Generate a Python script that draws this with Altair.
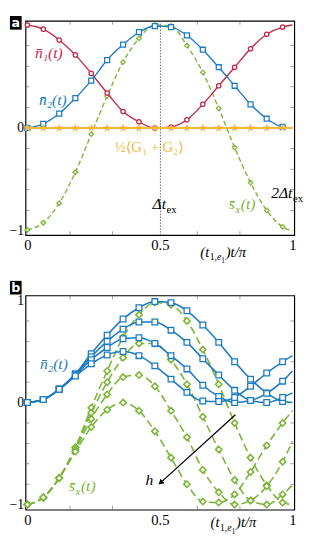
import altair as alt
import pandas as pd

SERIF = "'Liberation Serif', 'DejaVu Serif', serif"
RED = "#c3274a"
BLUE = "#1b7bc2"
GREEN = "#7ab536"
ORANGE = "#f4b63d"

# marker times (17 markers) plus the axis end t = 1 where the lines stop
T = [0.0, 0.060, 0.120, 0.181, 0.241, 0.301, 0.361, 0.421, 0.481, 0.542,
     0.602, 0.662, 0.722, 0.782, 0.842, 0.903, 0.963, 1.0]
N_MARK = 17

# ---- panel a ----
A_N1 = [1.00, 0.96, 0.855, 0.71, 0.53, 0.34, 0.16, 0.06, 0.00, 0.01, 0.08, 0.23, 0.41, 0.59, 0.77, 0.91, 0.98, 1.00]
A_N2 = [0.00, 0.04, 0.14, 0.29, 0.46, 0.66, 0.81, 0.93, 0.99, 0.98, 0.90, 0.76, 0.59, 0.41, 0.23, 0.09, 0.01, 0.00]
A_SX = [-0.99, -0.92, -0.73, -0.43, -0.06, 0.31, 0.64, 0.87, 1.00, 0.99, 0.80, 0.54, 0.19, -0.19, -0.53, -0.80, -0.96, -1.00]
A_G = [0.0, 0.0, 0.0, 0.0, 0.0, 0.0, 0.0, 0.0, 0.0, 0.0, 0.0, 0.0, 0.0, 0.0, 0.0, 0.0, 0.0, 0.0]

# ---- panel b (four values of h, amplitude decreasing with h) ----
B_N2_1 = [0.00, 0.03, 0.13, 0.28, 0.48, 0.66, 0.82, 0.93, 0.99, 0.98, 0.90, 0.76, 0.59, 0.40, 0.23, 0.095, 0.01, 0.00]
B_N2_2 = [0.00, 0.03, 0.13, 0.28, 0.45, 0.60, 0.72, 0.79, 0.79, 0.71, 0.59, 0.43, 0.27, 0.12, 0.02, 0.00, 0.05, 0.095]
B_N2_3 = [0.00, 0.03, 0.13, 0.27, 0.42, 0.54, 0.625, 0.635, 0.58, 0.46, 0.33, 0.17, 0.06, 0.00, 0.02, 0.09, 0.21, 0.31]
B_N2_4 = [0.00, 0.03, 0.13, 0.26, 0.38, 0.467, 0.50, 0.46, 0.36, 0.23, 0.10, 0.015, 0.01, 0.05, 0.16, 0.29, 0.40, 0.46]
B_SX_1 = [-1.00, -0.93, -0.74, -0.44, -0.05, 0.31, 0.64, 0.86, 0.98, 0.96, 0.80, 0.52, 0.18, -0.20, -0.54, -0.81, -0.98, -1.00]
B_SX_2 = [-1.00, -0.93, -0.74, -0.44, -0.10, 0.20, 0.44, 0.58, 0.58, 0.42, 0.18, -0.14, -0.46, -0.76, -0.96, -1.00, -0.90, -0.81]
B_SX_3 = [-1.00, -0.93, -0.74, -0.46, -0.16, 0.08, 0.25, 0.27, 0.16, -0.08, -0.34, -0.66, -0.88, -1.00, -0.96, -0.82, -0.58, -0.38]
B_SX_4 = [-1.00, -0.93, -0.74, -0.48, -0.24, -0.07, 0.00, -0.08, -0.28, -0.54, -0.80, -0.97, -0.98, -0.90, -0.68, -0.42, -0.20, -0.08]

# axis ticks
X_LABELS = [0, 0.5, 1]
X_MINOR = [0.161, 0.321, 0.641, 0.802]
Y_MINOR = [-0.8, -0.6, -0.4, -0.2, 0.2, 0.4, 0.6, 0.8]
A_Y_LABELS = [0, -1]
B_Y_LABELS = [1, 0, -1]

# arrow in panel b (start -> end), direction of increasing h
ARROW_T = [0.785, 0.505]
ARROW_V = [-0.12, -0.78]

XDOM = [-0.007, 1.007]
W = 276
H = 220
STAR = ("M0,-1L0.2245,-0.309L0.951,-0.309L0.363,0.118L0.588,0.809L0,0.382"
        "L-0.588,0.809L-0.363,0.118L-0.951,-0.309L-0.2245,-0.309Z")

# rich-text pieces: (text, dx, dy, size, italic, align)
DT_EX = [("Δt", 0, 0, 16, True, "right"), ("ex", 0.5, 4, 11, False, "left")]
DT2_EX = [("2Δt", 0, 0, 16, True, "right"), ("ex", 0.5, 4, 11, False, "left")]
SX_T = [("s̄", 0, 0, 16, True, "right"), ("x", 0.5, 4, 11, True, "left"), ("(t)", 6, 0, 16, True, "left")]
XTITLE = [("(t", 0, 0, 15, True, "right"), ("1,", 0.5, 4, 10, False, "left"),
          ("e", 8, 4, 10, True, "left"), ("1", 12.5, 7, 7.5, False, "left"),
          (")t/π", 17, 0, 15, True, "left")]


def series_df(values, name):
    return pd.DataFrame({"t": T, "v": values, "s": name, "m": [i < N_MARK for i in range(len(T))]})


def panel(ydom, ylabels, layers_fn, box_y, letter):
    xs = alt.Scale(domain=XDOM, nice=False, zero=False)
    ys = alt.Scale(domain=ydom, nice=False, zero=False)
    X = alt.X("t:Q", scale=xs, axis=alt.Axis(
        values=X_LABELS, format="~g", ticks=False, domain=False, grid=False,
        labelFont=SERIF, labelFontSize=15, labelColor="black", labelPadding=3,
        labelFlush=False, title=None))
    Y = alt.Y("v:Q", scale=ys, axis=alt.Axis(
        values=ylabels, format="~g", ticks=False, domain=False, grid=False,
        labelFont=SERIF, labelFontSize=14, labelColor="black", labelPadding=2,
        labelFlush=False, title=None))

    def text(t, v, s, color, size=16, italic=True, align="center"):
        return [alt.Chart(pd.DataFrame({"t": [t], "v": [v], "s": [s]})).mark_text(
            color=color, font=SERIF, fontSize=size, fontStyle="italic" if italic else "normal",
            align=align, baseline="middle").encode(x=X, y=Y, text="s:N")]

    def rich(t, v, parts, color):
        out = []
        for s, dx, dy, size, italic, align in parts:
            out.append(alt.Chart(pd.DataFrame({"t": [t], "v": [v], "s": [s]})).mark_text(
                color=color, font=SERIF, fontSize=size,
                fontStyle="italic" if italic else "normal", align=align,
                baseline="alphabetic", dx=dx, dy=dy).encode(x=X, y=Y, text="s:N"))
        return out

    ytick = pd.DataFrame({"v": Y_MINOR})
    xtick = pd.DataFrame({"t": X_MINOR})
    ticks = [
        alt.Chart(ytick).mark_tick(orient="horizontal", size=4, thickness=0.8, color="#555", xOffset=2)
        .encode(y=Y, x=alt.datum(XDOM[0])),
        alt.Chart(ytick).mark_tick(orient="horizontal", size=4, thickness=0.8, color="#555", xOffset=-2)
        .encode(y=Y, x=alt.datum(XDOM[1])),
        alt.Chart(xtick).mark_tick(orient="vertical", size=4, thickness=0.8, color="#555", yOffset=-2)
        .encode(x=X, y=alt.datum(ydom[0])),
        alt.Chart(xtick).mark_tick(orient="vertical", size=4, thickness=0.8, color="#555", yOffset=2)
        .encode(x=X, y=alt.datum(ydom[1])),
    ]
    lab = pd.DataFrame({"s": [letter]})
    box = alt.Chart(lab).mark_rect(color="black").encode(
        x=alt.value(-16), x2=alt.value(-4), y=alt.value(box_y), y2=alt.value(box_y + 14))
    boxt = alt.Chart(lab).mark_text(color="white", font="DejaVu Sans", fontWeight="bold",
                                    fontSize=13, align="center", baseline="middle").encode(
        x=alt.value(-10), y=alt.value(box_y + 7.5), text="s:N")
    layers = ticks + layers_fn(X, Y, text, rich) + [box, boxt]
    return alt.layer(*layers).properties(width=W, height=H)


def lines_and_marks(X, Y, df, color, shape, size, dash=None, line_w=1.4, mark_w=1.3):
    lkw = dict(color=color, strokeWidth=line_w, interpolate="monotone")
    if dash:
        lkw["strokeDash"] = dash
    line = alt.Chart(df).mark_line(**lkw).encode(x=X, y=Y, detail="s:N")
    pts = alt.Chart(df).transform_filter("datum.m").mark_point(
        shape=shape, size=size, fill="white", fillOpacity=1, stroke=color,
        strokeWidth=mark_w, opacity=1).encode(x=X, y=Y, detail="s:N")
    return [line, pts]


def layers_a(X, Y, text, rich):
    out = []
    out.append(alt.Chart(pd.DataFrame({"s": ["dt"]})).mark_rule(
        color="#666", strokeDash=[1.5, 1.5], strokeWidth=1).encode(x=alt.datum(0.502)))
    out += lines_and_marks(X, Y, series_df(A_SX, "sx"), GREEN, "diamond", 22, dash=[5, 3])
    out += lines_and_marks(X, Y, series_df(A_N1, "n1"), RED, "circle", 20)
    out += lines_and_marks(X, Y, series_df(A_N2, "n2"), BLUE, "square", 26)
    g = series_df(A_G, "g")
    out.append(alt.Chart(g).mark_line(color=ORANGE, strokeWidth=2).encode(x=X, y=Y))
    out.append(alt.Chart(g).transform_filter("datum.m").mark_point(
        shape=STAR, size=90, filled=True, color=ORANGE, opacity=1).encode(x=X, y=Y))
    out += text(0.081, 0.73, "n̄₁(t)", RED)
    out += text(0.096, 0.27, "n̄₂(t)", BLUE)
    out += text(0.46, -0.19, "½⟨G₁ + G₂⟩", ORANGE, size=15, italic=False)
    out += rich(0.523, -0.79, DT_EX, "black")
    out += rich(1.0, -0.68, DT2_EX, "black")
    out += rich(0.783, -0.79, SX_T, GREEN)
    out += rich(0.686, -1.248, XTITLE, "black")
    return out


def layers_b(X, Y, text, rich):
    out = []
    for i, s in enumerate([B_SX_1, B_SX_2, B_SX_3, B_SX_4]):
        out += lines_and_marks(X, Y, series_df(s, f"sx{i}"), GREEN, "diamond", 42,
                               dash=[8, 4], line_w=1.6, mark_w=1.6)
    for i, s in enumerate([B_N2_1, B_N2_2, B_N2_3, B_N2_4]):
        out += lines_and_marks(X, Y, series_df(s, f"n{i}"), BLUE, "square", 34, line_w=1.6)
    arr = pd.DataFrame({"t": ARROW_T, "v": ARROW_V})
    out.append(alt.Chart(arr).mark_line(color="black", strokeWidth=1.3).encode(x=X, y=Y))
    out.append(alt.Chart(arr.iloc[[1]]).mark_point(shape="triangle", size=40, filled=True,
                                                   color="black", opacity=1, angle=229)
               .encode(x=X, y=Y))
    out += text(0.10, 0.38, "n̄₂(t)", BLUE)
    out += rich(0.18, -0.87, SX_T, GREEN)
    out += text(0.46, -0.76, "h", "black")
    out += rich(0.725, -1.221, XTITLE, "black")
    return out


pa = panel([-1.04, 1.04], A_Y_LABELS, layers_a, -5, "a")
pb = panel([-1.05, 1.05], B_Y_LABELS, layers_b, -15, "b")

chart = alt.vconcat(pa, pb, spacing=14).properties(
    padding={"left": 0, "right": 0, "top": 0, "bottom": 0}
).configure_view(stroke="black", strokeWidth=1.2)

chart.save("out.html", embed_options={"renderer": "svg", "actions": False})
